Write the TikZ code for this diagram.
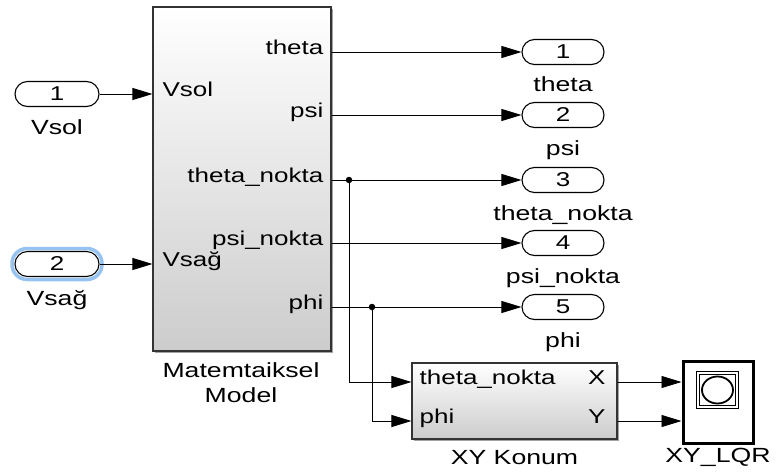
\documentclass[tikz,border=0pt]{standalone}
\usepackage{fontspec}
\setmainfont{Liberation Sans}[FakeStretch=1.3]
\usetikzlibrary{arrows.meta,shadows,shapes.geometric}
\definecolor{glowblue}{RGB}{150,195,240}
\begin{document}
\begin{tikzpicture}[x=1pt,y=-1pt,
  every node/.style={font=\fontsize{20}{24}\selectfont, inner sep=0pt},
  pill/.style={draw, line width=1.1pt, rounded corners=12.5pt, minimum width=84pt, minimum height=25pt, fill=white},
  wire/.style={line width=0.9pt, -{Triangle[length=20pt,width=12pt]}},
  junc/.style={circle, fill, minimum size=6.5pt, inner sep=0pt},
  sblock/.style={draw=black!80, line width=1.1pt, top color=white, bottom color=black!20,
    drop shadow={shadow xshift=2pt, shadow yshift=-2pt, fill=black!45, opacity=0.8}},
  lbl/.style={anchor=base, font=\fontsize{20.5}{24}\selectfont}]
\useasboundingbox (0,0) rectangle (776,476);

% main block
\node[sblock, minimum width=178pt, minimum height=344pt] (mm) at (242,179) {};
\node[lbl] (mmname) at (241,377) {Matemtaiksel};
\node[lbl] (mmname2) at (241,402) {Model};

% inports
\node[draw=glowblue, line width=3.5pt, rounded corners=15pt, minimum width=90pt, minimum height=31pt] (glow) at (57,264) {};
\node[pill] (i1) at (57,94) {1};
\node[pill] (i2) at (57,264) {2};
\node[lbl] (i1l) at (57,135) {Vsol};
\node[lbl] (i2l) at (57,305) {Vsağ};
\draw[wire] (i1.east) -- (mm.west |- i1);
\draw[wire] (i2.east) -- (mm.west |- i2);
\node[anchor=mid west] (pv1) at ([xshift=10pt]mm.west |- i1) {Vsol};
\node[anchor=mid west] (pv2) at ([xshift=10pt]mm.west |- i2) {Vsağ};

% outports
\foreach \n/\y/\t in {1/52/theta,2/115/psi,3/180/theta\_nokta,4/243/psi\_nokta,5/307/phi}{
  \node[pill, minimum width=82pt] (o\n) at (563,\y) {\n};
  \node[lbl] (o\n l) at (563,\y+40) {\t};
  \node[anchor=mid east] (po\n) at ([xshift=-8pt]mm.east |- o\n) {\t};
  \draw[wire] (mm.east |- o\n) -- (o\n.west);
}

% XY Konum block
\node[sblock, minimum width=205pt, minimum height=76pt] (xy) at (514.5,401) {};
\node[lbl] (xyname) at (514.5,464) {XY Konum};
\coordinate (ya) at (0,382);
\coordinate (yb) at (0,421);
\node[anchor=mid west] (xp1) at ([xshift=8pt]xy.west |- ya) {theta\_nokta};
\node[anchor=mid west] (xp2) at ([xshift=8pt]xy.west |- yb) {phi};
\node[anchor=mid east] (xq1) at ([xshift=-12pt]xy.east |- ya) {X};
\node[anchor=mid east] (xq2) at ([xshift=-12pt]xy.east |- yb) {Y};

% junctions
\coordinate (j1) at (349,180);
\coordinate (j2) at (372,307);
\node[junc] (d1) at (j1) {};
\node[junc] (d2) at (j2) {};
\draw[wire] (j1) |- (xy.west |- ya);
\draw[wire] (j2) |- (xy.west |- yb);

% scope
\node[draw, line width=3pt, fill=white, minimum width=70pt, minimum height=82pt] (sc) at (718,402) {};
\node[lbl] (scname) at (718,462) {XY\_LQR};
\node[draw, line width=1.1pt, minimum width=42pt, minimum height=37pt] (scr) at (717.5,390) {};
\node[draw, line width=1.1pt, minimum width=36pt, minimum height=31pt] (scr2) at (717.5,390) {};
\node[draw, ellipse, line width=1.8pt, minimum width=31pt, minimum height=27pt] (scc) at (717.5,390) {};
\draw[wire] (xy.east |- ya) -- (sc.west |- ya);
\draw[wire] (xy.east |- yb) -- (sc.west |- yb);
\end{tikzpicture}
\end{document}
